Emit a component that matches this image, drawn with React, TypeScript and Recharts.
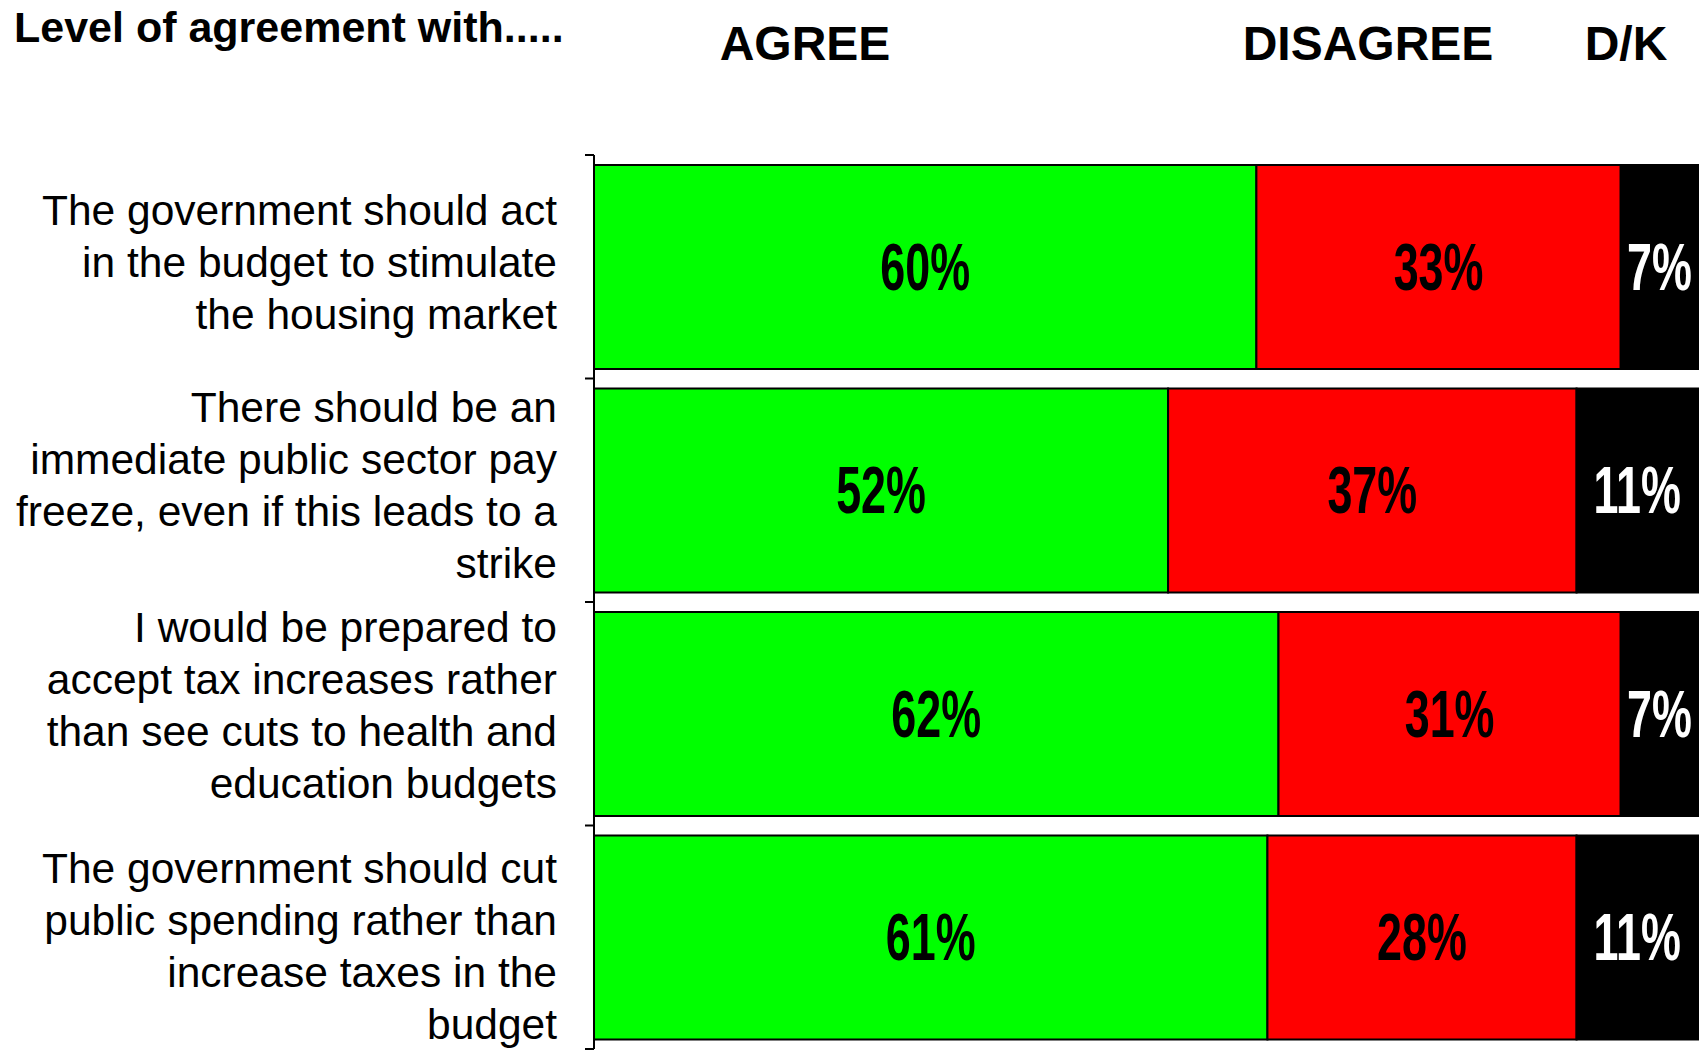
import React from 'react';
import { BarChart, Bar, XAxis, YAxis, LabelList } from 'recharts';

const categories = [
  'The government should act\nin the budget to stimulate\nthe housing market',
  'There should be an\nimmediate public sector pay\nfreeze, even if this leads to a\nstrike',
  'I would be prepared to\naccept tax increases rather\nthan see cuts to health and\neducation budgets',
  'The government should cut\npublic spending rather than\nincrease taxes in the\nbudget',
];
const agree = [60, 52, 62, 61];
const disagree = [33, 37, 31, 28];
const dontKnow = [7, 11, 7, 11];
const headers = ['AGREE', 'DISAGREE', 'D/K'];
const title = 'Level of agreement with.....';

const W = 1704;
const H = 1050;
const M = { top: 155, right: 6, bottom: 1, left: 0 };
const AXIS_W = 594;
const BAND = (H - M.top - M.bottom) / categories.length;
const FONT = '"Liberation Sans", Arial, Helvetica, sans-serif';
// small vertical nudges of the multi-line category labels (layout only)
const LABEL_NUDGE = [-5, -5, -9, 9];

const data = categories.map((c, i) => ({
  name: c,
  agree: agree[i],
  disagree: disagree[i],
  dk: dontKnow[i],
}));

const CategoryTick = (props: any) => {
  const { x, y, payload, index } = props;
  const lines = String(payload.value).split('\n');
  const lh = 52;
  const startDy = -((lines.length - 1) * lh) / 2;
  const ax = Number(x) + 8;
  const tx = ax - 37;
  const ty = Number(y) + (LABEL_NUDGE[index] || 0);
  return (
    <g>
      <line x1={ax - 9} x2={ax} y1={y - BAND / 2} y2={y - BAND / 2} stroke="#000" strokeWidth={2} />
      {index === categories.length - 1 && (
        <line x1={ax - 9} x2={ax} y1={y + BAND / 2} y2={y + BAND / 2} stroke="#000" strokeWidth={2} />
      )}
      <text x={tx} y={ty} textAnchor="end" fontSize={42.5} fontFamily={FONT} fill="#000">
        {lines.map((l, i) => (
          <tspan key={i} x={tx} dy={i === 0 ? startDy + 15 : lh}>
            {l}
          </tspan>
        ))}
      </text>
    </g>
  );
};

const makeLabel = (fill: string) => (props: any) => {
  const { x, y, width, height, value } = props;
  const cx = Number(x) + Number(width) / 2;
  const cy = Number(y) + Number(height) / 2;
  return (
    <text
      transform={`translate(${cx},${cy}) scale(0.68,1)`}
      textAnchor="middle"
      dominantBaseline="central"
      fontSize={66}
      fontWeight="bold"
      fontFamily={FONT}
      fill={fill}
    >
      {`${value}%`}
    </text>
  );
};

const headerX = [805, 1368, 1626];

export default function App() {
  return (
    <div style={{ position: 'absolute', left: 0, top: 0, width: W, height: H, background: '#fff' }}>
      <BarChart
        width={W}
        height={H}
        data={data}
        layout="vertical"
        margin={M}
        barCategoryGap={10}
      >
        <XAxis type="number" domain={[0, 100]} hide />
        <YAxis
          type="category"
          dataKey="name"
          width={AXIS_W}
          axisLine={{ stroke: '#000', strokeWidth: 2 }}
          tickLine={false}
          tick={<CategoryTick />}
          interval={0}
        />
        <Bar dataKey="agree" stackId="a" fill="#00FF00" stroke="#000" strokeWidth={2} isAnimationActive={false}>
          <LabelList dataKey="agree" content={makeLabel('#000')} />
        </Bar>
        <Bar dataKey="disagree" stackId="a" fill="#FF0000" stroke="#000" strokeWidth={2} isAnimationActive={false}>
          <LabelList dataKey="disagree" content={makeLabel('#000')} />
        </Bar>
        <Bar dataKey="dk" stackId="a" fill="#000000" stroke="#000" strokeWidth={2} isAnimationActive={false}>
          <LabelList dataKey="dk" content={makeLabel('#fff')} />
        </Bar>
      </BarChart>
      <svg width={W} height={90} style={{ position: 'absolute', left: 0, top: 0 }}>
        <text x={14} y={42} fontSize={43} fontWeight="bold" fontFamily={FONT} fill="#000">
          {title}
        </text>
        {headers.map((h, i) => (
          <text
            key={h}
            x={headerX[i]}
            y={60}
            textAnchor="middle"
            fontSize={48}
            fontWeight="bold"
            fontFamily={FONT}
            fill="#000"
          >
            {h}
          </text>
        ))}
      </svg>
    </div>
  );
}
